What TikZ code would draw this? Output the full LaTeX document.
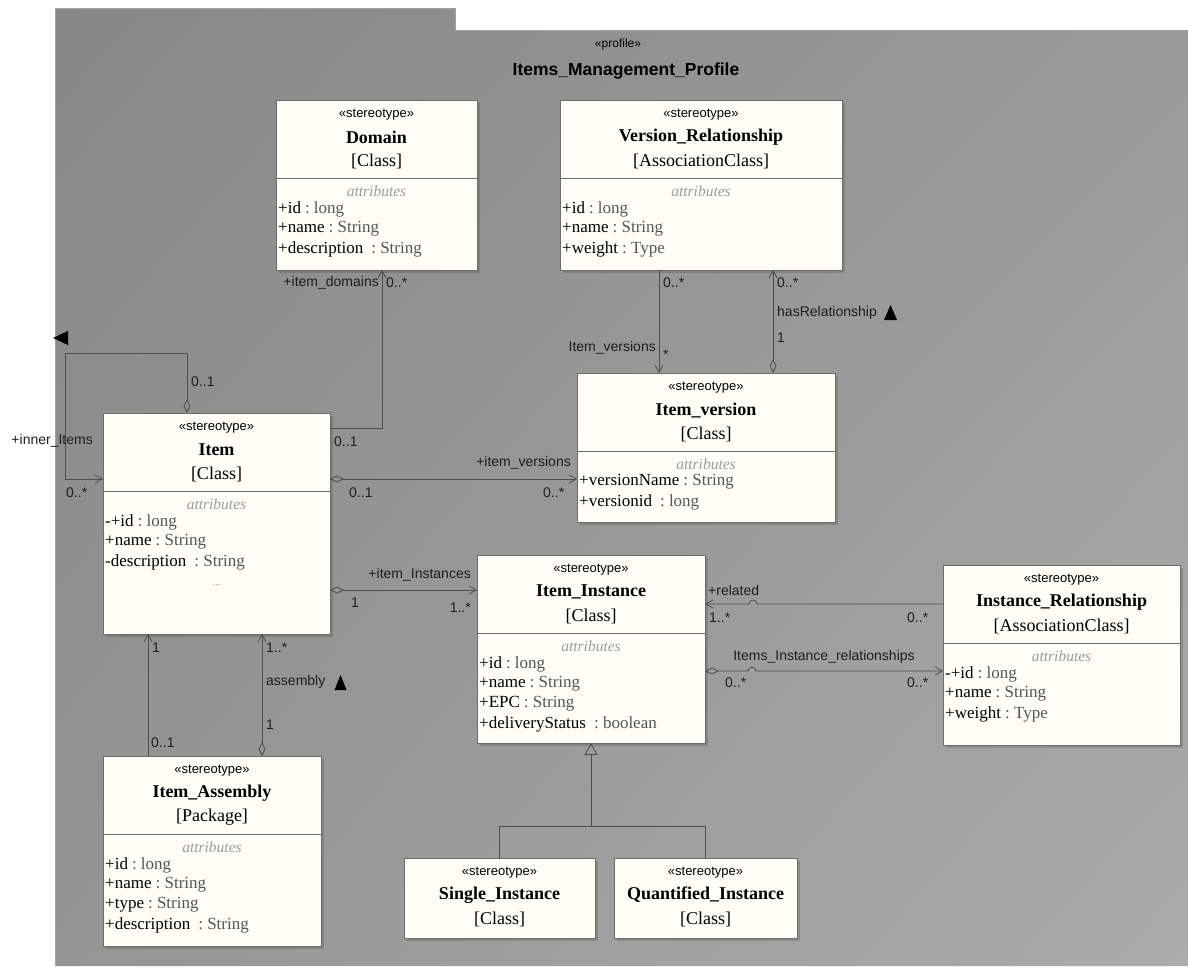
\documentclass[tikz,border=0pt]{standalone}
\usepackage{fontspec}
\setmainfont{Liberation Serif}
\setsansfont{Liberation Sans}
\usetikzlibrary{arrows.meta,calc,shadings}
\definecolor{linec}{HTML}{4E4E4E}
\definecolor{boxline}{HTML}{6C6C6C}
\definecolor{boxfill}{RGB}{254,254,246}
\definecolor{typec}{HTML}{555555}
\definecolor{attrhc}{HTML}{9C9C9C}
\definecolor{lblc}{HTML}{1E1E1E}
\definecolor{bgUL}{HTML}{878787}
\definecolor{bgUR}{HTML}{9A9A9A}
\definecolor{bgLL}{HTML}{959595}
\definecolor{bgLR}{HTML}{ABABAB}
\definecolor{pkgedge}{HTML}{A2A2A2}

\newcommand{\umlbox}[5]{%
  \fill[black,opacity=0.14] (#2+2.5,#3+2.5) rectangle (#2+#4+2.5,#3+#5+2.5);
  \node[box, minimum width=#4pt, minimum height=#5pt] (#1) at (#2,#3) {};}
\newcommand{\umlhead}[3]{%
  \node[stereo] (#1-st) at ($(#1.north)+(0,15)$) {«stereotype»};
  \node[cname] (#1-nm) at ($(#1.north)+(0,37)$) {#2};
  \node[ctype] (#1-ty) at ($(#1.north)+(0,61)$) {[#3]};}
\newcommand{\umlattrs}[1]{%
  \draw[boxline, line width=0.8pt] ($(#1.north west)+(0,78)$) -- ($(#1.north east)+(0,78)$);
  \node[attrh] (#1-ah) at ($(#1.north)+(0,91)$) {attributes};}
\newcommand{\umlattr}[5]{% id, index, name, gap, type
  \node[attr] (#1-a#2) at ($(#1.north west)+(2,109+20*#2)$) {#3\hspace{#4}\textcolor{typec}{:\ #5}};}

\begin{document}
\begin{tikzpicture}[x=1pt,y=-1pt,
  box/.style={draw=boxline, line width=0.8pt, fill=boxfill, inner sep=0pt, outer sep=0pt, anchor=north west},
  stereo/.style={font=\sffamily\fontsize{13}{15}\selectfont, inner sep=0pt},
  cname/.style={font=\bfseries\fontsize{18}{21}\selectfont, inner sep=0pt},
  ctype/.style={font=\fontsize{18}{21}\selectfont, inner sep=0pt},
  attrh/.style={font=\itshape\fontsize{15.5}{18}\selectfont, text=attrhc, inner sep=0pt},
  attr/.style={font=\fontsize{17}{20}\selectfont, inner sep=0pt, anchor=west},
  lbl/.style={font=\sffamily\fontsize{14}{16}\selectfont, text=lblc, inner sep=0pt},
  conn/.style={draw=linec, line width=0.8pt},
  toarr/.style={-{Straight Barb[length=7pt,width=8pt]}},
  dtoarr/.style={{Diamond[open,length=14pt,width=7pt]}-{Straight Barb[length=7pt,width=8pt]}},
  genarr/.style={-{Triangle[open,length=12pt,width=13pt]}},
]
\fill[white] (0,0) rectangle (1188,967);
\useasboundingbox (0,0) rectangle (1188,967);

% package
\shade[upper left=bgUL, upper right=bgUR, lower left=bgLL, lower right=bgLR]
  (55,8) -- (455,8) -- (455,30) -- (1188,30) -- (1188,966) -- (55,966) -- cycle;
\draw[pkgedge, line width=0.6pt] (55,966) -- (55,8) -- (455,8) -- (455,30) -- (1188,30);
\node[font=\sffamily\fontsize{12}{14}\selectfont, inner sep=0pt] (pst) at (618,44) {«profile»};
\node[font=\sffamily\bfseries\fontsize{17.5}{20}\selectfont, inner sep=0pt] (ptitle) at (626,71) {Items\_Management\_Profile};

% classes
\umlbox{dom}{276}{100}{201}{170}
\umlhead{dom}{Domain}{Class}
\umlattrs{dom}
\umlattr{dom}{0}{+id}{4pt}{long}
\umlattr{dom}{1}{+name}{4pt}{String}
\umlattr{dom}{2}{+description}{8pt}{String}

\umlbox{vr}{560}{100}{282}{170}
\umlhead{vr}{Version\_Relationship}{AssociationClass}
\umlattrs{vr}
\umlattr{vr}{0}{+id}{4pt}{long}
\umlattr{vr}{1}{+name}{4pt}{String}
\umlattr{vr}{2}{+weight}{4pt}{Type}

\umlbox{iv}{577}{373}{258}{149}
\umlhead{iv}{Item\_version}{Class}
\umlattrs{iv}
\umlattr{iv}{0}{+versionName}{4pt}{String}
\umlattr{iv}{1}{+versionid}{8pt}{long}

\umlbox{item}{103}{413}{227}{221}
\umlhead{item}{Item}{Class}
\umlattrs{item}
\umlattr{item}{0}{-+id}{4pt}{long}
\umlattr{item}{1}{+name}{4pt}{String}
\umlattr{item}{2}{-description}{8pt}{String}
\node[text=attrhc, font=\fontsize{10}{12}\selectfont, inner sep=0pt] (item-dots) at ($(item.north)+(0,172)$) {...};

\umlbox{ii}{477}{555}{228}{188}
\umlhead{ii}{Item\_Instance}{Class}
\umlattrs{ii}
\umlattr{ii}{0}{+id}{4pt}{long}
\umlattr{ii}{1}{+name}{4pt}{String}
\umlattr{ii}{2}{+EPC}{4pt}{String}
\umlattr{ii}{3}{+deliveryStatus}{8pt}{boolean}

\umlbox{ir}{943}{565}{237}{180}
\umlhead{ir}{Instance\_Relationship}{AssociationClass}
\umlattrs{ir}
\umlattr{ir}{0}{-+id}{4pt}{long}
\umlattr{ir}{1}{+name}{4pt}{String}
\umlattr{ir}{2}{+weight}{4pt}{Type}

\umlbox{ia}{103}{756}{218}{190}
\umlhead{ia}{Item\_Assembly}{Package}
\umlattrs{ia}
\umlattr{ia}{0}{+id}{4pt}{long}
\umlattr{ia}{1}{+name}{4pt}{String}
\umlattr{ia}{2}{+type}{4pt}{String}
\umlattr{ia}{3}{+description}{8pt}{String}

\umlbox{si}{404}{858}{191}{80}
\umlhead{si}{Single\_Instance}{Class}

\umlbox{qi}{614}{858}{183}{80}
\umlhead{qi}{Quantified\_Instance}{Class}

% connectors
% Item self loop (inner items)
\coordinate (loopA) at ($(item.north west)+(84,0)$);
\coordinate (loopB) at (65,353);
\coordinate (loopC) at ($(item.north west)+(0,66)$);
\draw[conn, dtoarr] (loopA) |- (loopB) |- (loopC);
\fill[black] (53,338) -- (68,331) -- (68,345) -- cycle;
\node[lbl, anchor=west] (l1) at (191,382) {0..1};
\node[lbl, anchor=east] (l2) at (93,441) {+inner\_Items};
\node[lbl, anchor=west] (l3) at (66,493) {0..*};

% Item -> Domain
\coordinate (c1) at ($(item.north east)+(0,15)$);
\coordinate (c1b) at ($(dom.south west)+(106,0)$);
\draw[conn, toarr] (c1) -| (c1b);
\node[lbl, anchor=west] (l4) at (334,442) {0..1};
\node[lbl, anchor=east] (l5) at (379,283) {+item\_domains};
\node[lbl, anchor=west] (l6) at (386,283) {0..*};

% Item -> Item_version
\coordinate (c2) at ($(item.north east)+(0,66)$);
\draw[conn, dtoarr] (c2) -- (c2 -| iv.west);
\node[lbl, anchor=east] (l7) at (571,463) {+item\_versions};
\node[lbl, anchor=west] (l8) at (349,493) {0..1};
\node[lbl, anchor=west] (l9) at (543,493) {0..*};

% Version_Relationship -> Item_version
\coordinate (c3) at ($(vr.south west)+(99,0)$);
\draw[conn, toarr] (c3) -- (c3 |- iv.north);
\node[lbl, anchor=west] (l10) at (663,283) {0..*};
\node[lbl, anchor=east] (l11) at (656,348) {Item\_versions};
\node[lbl, anchor=west] (l12) at (663,355) {*};

% Item_version -> Version_Relationship (hasRelationship)
\coordinate (c4) at ($(vr.south west)+(213,0)$);
\draw[conn, dtoarr] (c4 |- iv.north) -- (c4);
\node[lbl, anchor=west] (l13) at (777,283) {0..*};
\node[lbl, anchor=west] (l14) at (777,313) {hasRelationship};
\fill[black] ($(l14.east)+(7,7)$) -- ++(13,0) -- ++(-6.5,-15) -- cycle;
\node[lbl, anchor=west] (l15) at (777,338) {1};

% Item -> Item_Instance
\coordinate (c5) at ($(item.north east)+(0,177)$);
\draw[conn, dtoarr] (c5) -- (c5 -| ii.west);
\node[lbl, anchor=east] (l16) at (471,575) {+item\_Instances};
\node[lbl, anchor=west] (l17) at (351,603) {1};
\node[lbl, anchor=east] (l18) at (471,608) {1..*};

% Instance_Relationship -> Item_Instance (related)
\coordinate (c6) at ($(ir.north west)+(0,39)$);
\coordinate (h1) at ($(c6 -| ii.east)+(52,0)$);
\draw[conn, toarr] (c6) -- (h1) arc[start angle=0, end angle=-180, radius=4] -- (c6 -| ii.east);
\node[lbl, anchor=west] (l19) at (708,590) {+related};
\node[lbl, anchor=west] (l20) at (709,618) {1..*};
\node[lbl, anchor=west] (l21) at (907,618) {0..*};

% Item_Instance -> Instance_Relationship
\coordinate (c7) at ($(ir.north west)+(0,106)$);
\coordinate (h2) at ($(c7 -| ii.east)+(43,0)$);
\draw[conn, dtoarr] (c7 -| ii.east) -- (h2) arc[start angle=180, end angle=360, radius=4] -- (c7);
\node[lbl] (l22) at (824,657) {Items\_Instance\_relationships};
\node[lbl, anchor=west] (l23) at (725,683) {0..*};
\node[lbl, anchor=west] (l24) at (907,683) {0..*};

% Item_Assembly -> Item
\coordinate (c8) at ($(ia.north west)+(45,0)$);
\draw[conn, toarr] (c8) -- (c8 |- item.south);
\node[lbl, anchor=west] (l25) at (152,648) {1};
\node[lbl, anchor=west] (l26) at (151,743) {0..1};

\coordinate (c9) at ($(ia.north west)+(159,0)$);
\draw[conn, dtoarr] (c9) -- (c9 |- item.south);
\node[lbl, anchor=west] (l27) at (266,648) {1..*};
\node[lbl, anchor=west] (l28) at (266,682) {assembly};
\fill[black] ($(l28.east)+(9,8)$) -- ++(12,0) -- ++(-6,-15) -- cycle;
\node[lbl, anchor=west] (l29) at (266,725) {1};

% generalization
\coordinate (gj) at ($(ii.south)+(0,83)$);
\draw[conn] (si.north) |- (qi.north |- gj) -- (qi.north);
\draw[conn, genarr] (gj) -- (ii.south);
\end{tikzpicture}
\end{document}
